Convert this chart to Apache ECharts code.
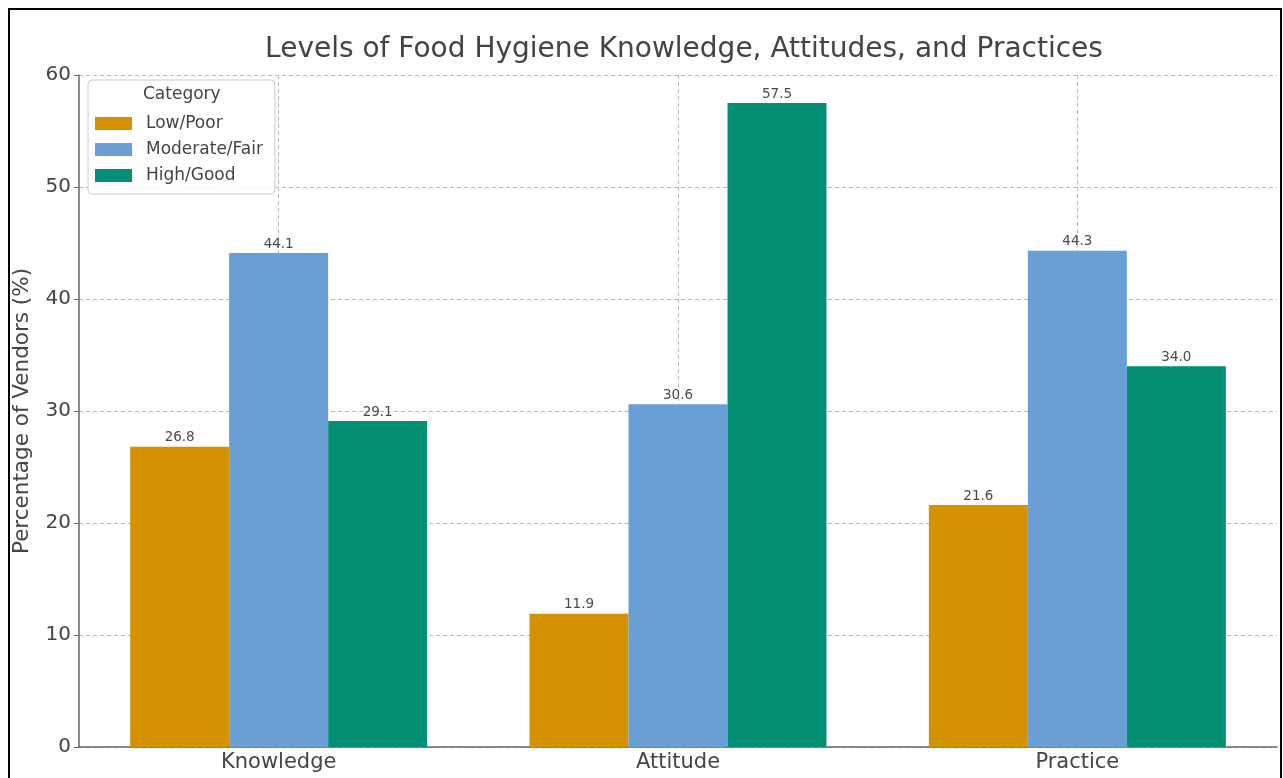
<!DOCTYPE html>
<html>
<head>
<meta charset="utf-8">
<script src="https://cdn.jsdelivr.net/npm/echarts@6/dist/echarts.min.js"></script>
<style>
  html, body { margin: 0; padding: 0; background: #fff; }
  #chart { width: 1283px; height: 778px; }
</style>
</head>
<body>
<div id="chart"></div>
<script>
var categories = ['Knowledge', 'Attitude', 'Practice']
var lowPoor = [26.8, 11.9, 21.6]
var moderateFair = [44.1, 30.6, 44.3]
var highGood = [29.1, 57.5, 34.0]
var yTicks = [0, 10, 20, 30, 40, 50, 60]

var myChart = echarts.init(document.getElementById('chart'))

var labelStyle = {
  show: true,
  position: 'top',
  distance: 2,
  fontSize: 13.5,
  color: '#4a4a4a',
  fontFamily: 'DejaVu Sans',
  formatter: function (p) { return p.value.toFixed(1) }
}

myChart.setOption({
  backgroundColor: '#fff',
  animation: false,
  textStyle: { fontFamily: 'DejaVu Sans' },
  title: {
    text: 'Levels of Food Hygiene Knowledge, Attitudes, and Practices',
    left: 679,
    textAlign: 'center',
    top: 31,
    textStyle: { fontSize: 28, fontWeight: 'normal', color: '#444', fontFamily: 'DejaVu Sans' }
  },
  graphic: [
    {
      type: 'rect',
      shape: { x: 9, y: 9, width: 1272, height: 790 },
      style: { fill: 'none', stroke: '#000', lineWidth: 2 },
      silent: true
    },
    {
      type: 'text',
      left: 143,
      top: 86,
      z: 100,
      style: { text: 'Category', fontSize: 17, fill: '#444', fontFamily: 'DejaVu Sans' }
    }
  ],
  legend: {
    orient: 'vertical',
    left: 88,
    top: 80,
    padding: [35, 12, 10, 7],
    backgroundColor: 'rgba(255,255,255,0.85)',
    borderColor: '#ccc',
    borderWidth: 1,
    borderRadius: 4,
    itemWidth: 37,
    itemHeight: 13,
    itemGap: 9,
    icon: 'rect',
    textStyle: { fontSize: 17, color: '#444', fontFamily: 'DejaVu Sans', padding: [0, 0, 0, 9] },
    data: ['Low/Poor', 'Moderate/Fair', 'High/Good']
  },
  grid: { left: 79, right: 6, top: 75, bottom: 31, containLabel: false },
  xAxis: [
    {
      type: 'category',
      data: categories,
      axisLine: { lineStyle: { color: '#666', width: 1.5 } },
      axisTick: { alignWithLabel: true, length: 5, lineStyle: { color: '#666' } },
      axisLabel: { fontSize: 21, color: '#444', margin: 5, fontFamily: 'DejaVu Sans' },
      splitLine: { show: false }
    },
    {
      type: 'category',
      boundaryGap: false,
      data: ['', '', '', '', '', '', ''],
      position: 'bottom',
      axisLine: { show: false },
      axisTick: { show: false },
      axisLabel: { show: false },
      splitLine: {
        show: true,
        interval: function (i) { return i % 2 === 1 },
        lineStyle: { color: '#bbb', type: [4, 3], width: 1 }
      }
    }
  ],
  yAxis: {
    type: 'value',
    min: 0,
    max: 60,
    interval: 10,
    name: 'Percentage of Vendors (%)',
    nameLocation: 'middle',
    nameGap: 46,
    nameTextStyle: { fontSize: 21.5, color: '#444', fontFamily: 'DejaVu Sans' },
    axisLine: { show: true, lineStyle: { color: '#666', width: 1.5 } },
    axisTick: { show: true, length: 5, lineStyle: { color: '#666' } },
    axisLabel: {
      fontSize: 20, color: '#444', margin: 8, fontFamily: 'DejaVu Sans',
      formatter: function (v) { return yTicks.indexOf(v) >= 0 ? String(v) : '' }
    },
    splitLine: { show: true, lineStyle: { color: '#bbb', type: [4, 3], width: 1 } }
  },
  series: [
    {
      name: 'Low/Poor',
      type: 'bar',
      data: lowPoor,
      barWidth: 99,
      barGap: '0%',
      itemStyle: { color: '#D49100' },
      label: labelStyle
    },
    {
      name: 'Moderate/Fair',
      type: 'bar',
      data: moderateFair,
      barWidth: 99,
      barGap: '0%',
      itemStyle: { color: '#6A9FD6' },
      label: labelStyle
    },
    {
      name: 'High/Good',
      type: 'bar',
      data: highGood,
      barWidth: 99,
      barGap: '0%',
      itemStyle: { color: '#028F73' },
      label: labelStyle
    }
  ]
})
</script>
</body>
</html>
